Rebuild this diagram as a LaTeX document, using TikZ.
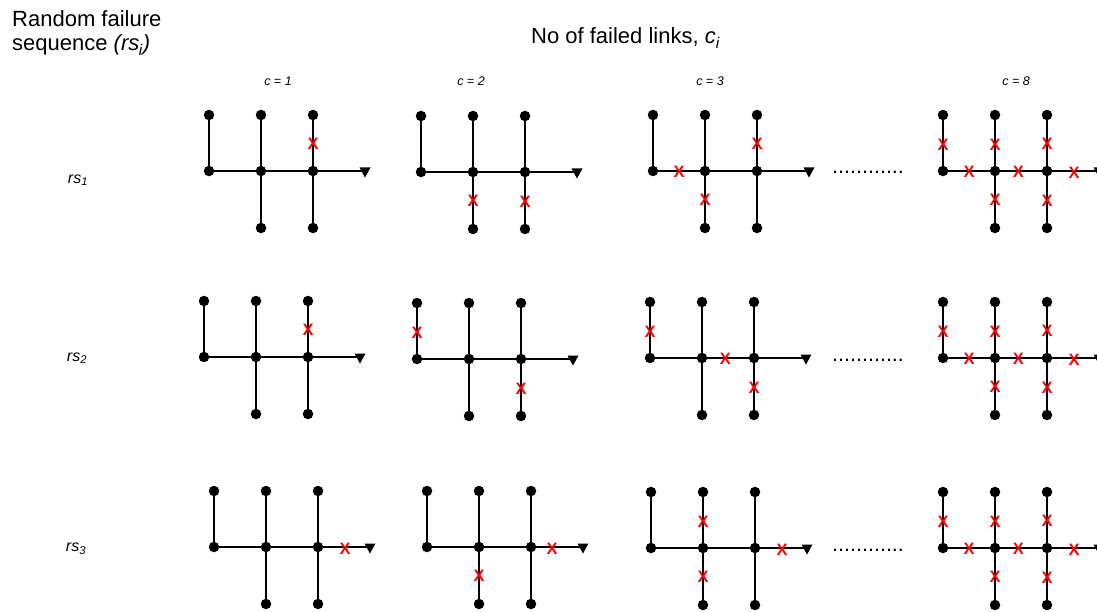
\documentclass[tikz,border=0pt]{standalone}
\usepackage{fontspec}
\setmainfont{Liberation Sans}
\usetikzlibrary{calc}
\tikzset{
  vtx/.style={circle,fill=black,inner sep=0pt,minimum size=10.5pt},
  link/.style={line width=2pt},
  xmk/.style={text=red,inner sep=0pt,font=\fontsize{16.5}{16}\selectfont\bfseries},
  head/.style={anchor=base west,inner sep=0pt,font=\fontsize{22}{25}\selectfont},
  clab/.style={inner sep=0pt,font=\fontsize{12.5}{14}\selectfont\itshape},
  rslab/.style={inner sep=0pt,font=\fontsize{16}{18}\selectfont\itshape},
  dots/.style={anchor=base west,inner sep=0pt,font=\fontsize{21.5}{22}\selectfont},
}
\newcommand\tgraph[3]{%
  \node[vtx] (#1a) at (#2,#3-56) {};
  \node[vtx] (#1b) at (#2,#3) {};
  \node[vtx] (#1c) at (#2+52,#3-56) {};
  \node[vtx] (#1d) at (#2+52,#3) {};
  \node[vtx] (#1e) at (#2+52,#3+57) {};
  \node[vtx] (#1f) at (#2+104,#3-56) {};
  \node[vtx] (#1g) at (#2+104,#3) {};
  \node[vtx] (#1h) at (#2+104,#3+57) {};
  \coordinate (#1z) at (#2+156,#3);
  \draw[link] (#1a) -- (#1b);
  \draw[link] (#1b) -- (#1d);
  \draw[link] (#1d) -- (#1g);
  \draw[link] (#1g) -- (#1z);
  \draw[link] (#1c) -- (#1d);
  \draw[link] (#1d) -- (#1e);
  \draw[link] (#1f) -- (#1g);
  \draw[link] (#1g) -- (#1h);
  \fill ($(#1z)+(-5.5,-3.5)$) -- ++(11,0) -- ++(-5.5,10) -- cycle;
}
\newcommand\xTL[1]{\node[xmk] at ($(#1a)!.5!(#1b)+(0,2)$) {X};}
\newcommand\xLM[1]{\node[xmk] at ($(#1b)!.5!(#1d)+(0,1)$) {X};}
\newcommand\xTM[1]{\node[xmk] at ($(#1c)!.5!(#1d)+(0,2)$) {X};}
\newcommand\xBM[1]{\node[xmk] at ($(#1d)!.5!(#1e)$) {X};}
\newcommand\xMR[1]{\node[xmk] at ($(#1d)!.45!(#1g)+(0,1)$) {X};}
\newcommand\xTR[1]{\node[xmk] at ($(#1f)!.5!(#1g)+(0,1)$) {X};}
\newcommand\xBR[1]{\node[xmk] at ($(#1g)!.5!(#1h)+(0,1)$) {X};}
\newcommand\xRA[1]{\node[xmk] at ($(#1g)+(27,2)$) {X};}
\newcommand\xAll[1]{\xTL{#1}\xLM{#1}\xTM{#1}\xBM{#1}\xMR{#1}\xTR{#1}\xBR{#1}\xRA{#1}}
\begin{document}
\begin{tikzpicture}[x=1pt,y=-1pt]
\useasboundingbox (0,0) rectangle (1097,612);
% headings
\node[head] (h1) at (12,27) {Random failure};
\node[head] (h2) at (12,51) {sequence \textit{(rs\textsubscript{\kern-0.5pt i})}};
\node[head] (h3) at (531,44) {No of failed links, \textit{c\textsubscript{i}}};
\node[clab] (c1) at (278,81) {c = 1};
\node[clab] (c2) at (471,81) {c = 2};
\node[clab] (c3) at (710,81) {c = 3};
\node[clab] (c8) at (1016,81) {c = 8};
\node[rslab] (r1) at (78,180) {rs\textsubscript{1}};
\node[rslab] (r2) at (77,358) {rs\textsubscript{2}};
\node[rslab] (r3) at (76,549) {rs\textsubscript{3}};
% row 1
\tgraph{p}{209}{171}
\tgraph{q}{421}{172}
\tgraph{r}{653}{171}
\tgraph{s}{943}{171}
\xTR{p}
\xBM{q}\xBR{q}
\xLM{r}\xBM{r}\xTR{r}
\xAll{s}
\node[dots] (d1) at (832,174) {............};
% row 2
\tgraph{t}{204}{357}
\tgraph{u}{417}{359}
\tgraph{v}{650}{358}
\tgraph{w}{943}{358}
\xTR{t}
\xTL{u}\xBR{u}
\xTL{v}\xMR{v}\xBR{v}
\xAll{w}
\node[dots] (d2) at (832,361) {............};
% row 3
\tgraph{k}{214}{547}
\tgraph{m}{427}{547}
\tgraph{n}{651}{548}
\tgraph{o}{943}{548}
\xRA{k}
\xBM{m}\node[xmk] at ($(mg)+(21,2)$) {X};
\xTM{n}\xBM{n}\xRA{n}
\xAll{o}
\node[dots] (d3) at (832,551) {............};
\end{tikzpicture}
\end{document}
